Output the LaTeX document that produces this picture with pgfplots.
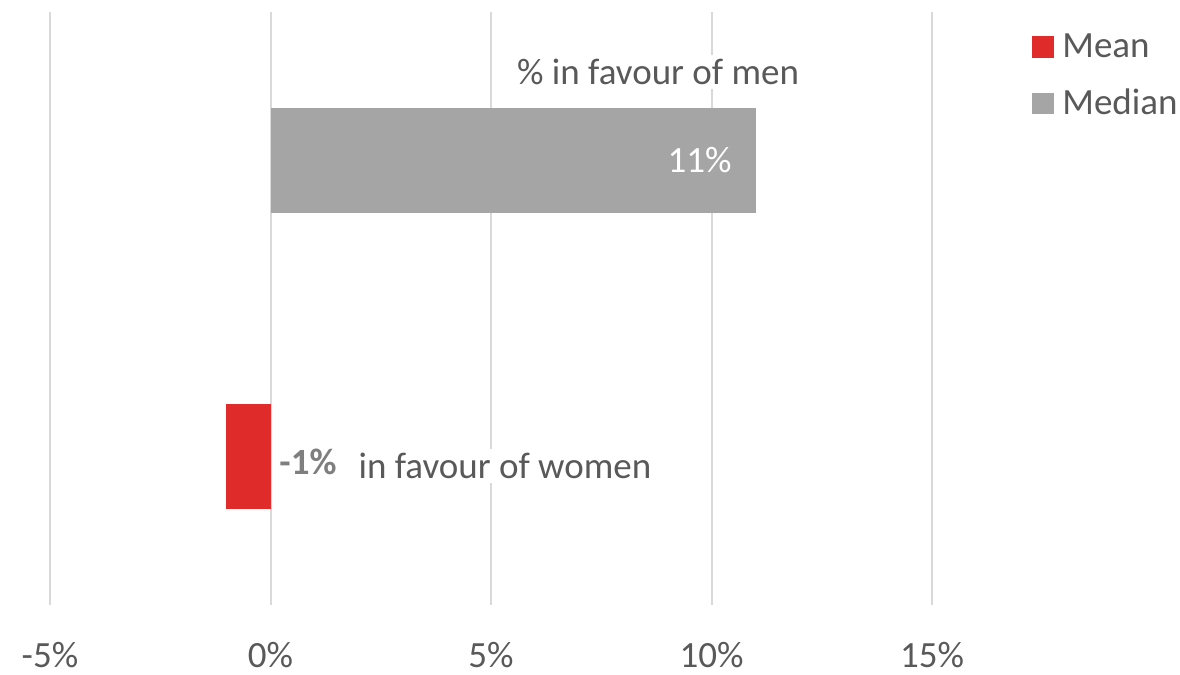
\documentclass[border=0pt]{standalone}
\usepackage{pgfplots}
\pgfplotsset{compat=1.18}
\usepackage{fontspec}
\setmainfont{Carlito}
\definecolor{barred}{HTML}{E02B2B}
\definecolor{bargray}{HTML}{A5A5A5}
\definecolor{txtgray}{HTML}{595959}
\definecolor{lblgray}{HTML}{7F7F7F}
\definecolor{gridgray}{HTML}{D9D9D9}
\begin{document}
\begin{tikzpicture}
\begin{axis}[
  at={(0,0)}, anchor=south west,
  scale only axis,
  width=441bp, height=296.5bp,
  xmin=-5, xmax=15, ymin=-0.5, ymax=1.5,
  xbar, bar shift=0pt, bar width=0.354,
  xtick={-5,0,5,10,15},
  ytick=\empty,
  axis line style={draw=none},
  major tick length=0pt,
  xmajorgrids,
  grid style={color=gridgray, line width=1bp},
  /pgf/number format/assume math mode=true,
  xticklabel={\pgfmathprintnumber{\tick}\%},
  xticklabel style={font=\fontsize{18.5bp}{22bp}\selectfont, text=txtgray, yshift=-15bp},
  legend style={at={(1.1134,0.968)}, anchor=north west, draw=none, fill=none,
    font=\fontsize{18.5bp}{22bp}\selectfont, text=txtgray, row sep=12.5bp,
    inner sep=0pt, nodes={inner sep=1bp}},
  legend cell align=left,
  legend image code/.code={\fill[#1] (0bp,-5.4bp) rectangle (10.8bp,5.4bp); \path (14bp,0bp);},
]
\addplot[fill=barred, draw=none] coordinates {(-1,0)};
\addlegendentry{Mean}
\addplot[fill=bargray, draw=none] coordinates {(11,1)};
\addlegendentry{Median}
\node[fill=white, text=txtgray, font=\fontsize{18.5bp}{22bp}\selectfont, inner sep=2bp] at (axis cs:8.79,1.298) {\% in favour of men};
\node[fill=white, text=txtgray, font=\fontsize{18.5bp}{22bp}\selectfont, inner sep=2bp] at (axis cs:5.317,-0.031) {in favour of women};
\node[text=lblgray, font=\bfseries\fontsize{18.5bp}{22bp}\selectfont, inner sep=1bp] at (axis cs:0.85,-0.017) {-1\%};
\node[text=white, font=\fontsize{18.5bp}{22bp}\selectfont, inner sep=1bp] at (axis cs:9.73,1.0) {11\%};
\end{axis}
\useasboundingbox (-25bp,-34bp) rectangle (565bp,302.5bp);
\end{tikzpicture}
\end{document}
